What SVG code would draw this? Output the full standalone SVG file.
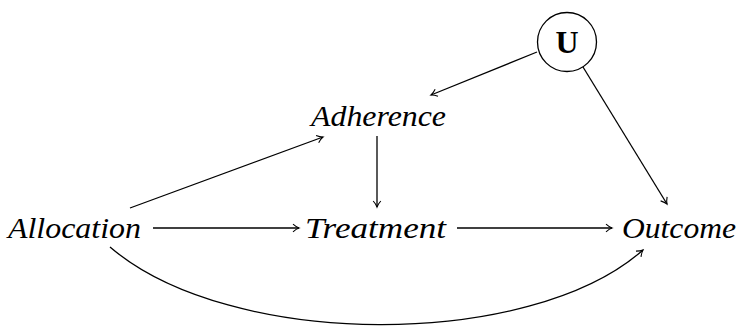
<svg xmlns="http://www.w3.org/2000/svg" width="739" height="326" viewBox="0 0 739 326">
<style>
.lbl{font-family:"Liberation Serif","DejaVu Serif",serif;font-style:italic;font-size:29px;fill:#000}
.u{font-family:"Liberation Serif","DejaVu Serif",serif;font-weight:bold;font-size:32px;fill:#000}
.edge{fill:none;stroke:#000;stroke-width:1.3;marker-end:url(#arr)}
</style>
<defs>
<marker id="arr" viewBox="-8 -5 10 10" refX="0" refY="0" markerWidth="10" markerHeight="10" markerUnits="userSpaceOnUse" orient="auto">
<path d="M -6 -3.8 C -3.5 -1.6 -1.2 -0.4 0 0 C -1.2 0.4 -3.5 1.6 -6 3.8" fill="none" stroke="#000" stroke-width="1.1"/>
</marker>
</defs>
<g id="connectors">
<path class="edge" d="M 537 52 L 431 95"/>
<path class="edge" d="M 583 67 L 667 204"/>
<path class="edge" d="M 130 208 L 323 137"/>
<path class="edge" d="M 377 136 L 377 207"/>
<path class="edge" d="M 153 228 L 299 228"/>
<path class="edge" d="M 457 228 L 612 228"/>
<path class="edge" d="M 110 247 C 230 350 530 350 643 250"/>
</g>
<g id="node-u">
<circle cx="567" cy="42" r="29.5" fill="#fff" stroke="#000" stroke-width="1.3"/>
<text class="u" x="567" y="53" text-anchor="middle">U</text>
</g>
<g id="node-adherence">
<text class="lbl" x="311" y="126" textLength="135" lengthAdjust="spacingAndGlyphs">Adherence</text>
</g>
<g id="node-allocation">
<text class="lbl" x="8" y="238" textLength="133" lengthAdjust="spacingAndGlyphs">Allocation</text>
</g>
<g id="node-treatment">
<text class="lbl" x="305" y="238" textLength="141" lengthAdjust="spacingAndGlyphs">Treatment</text>
</g>
<g id="node-outcome">
<text class="lbl" x="622" y="238" textLength="114" lengthAdjust="spacingAndGlyphs">Outcome</text>
</g>
</svg>
